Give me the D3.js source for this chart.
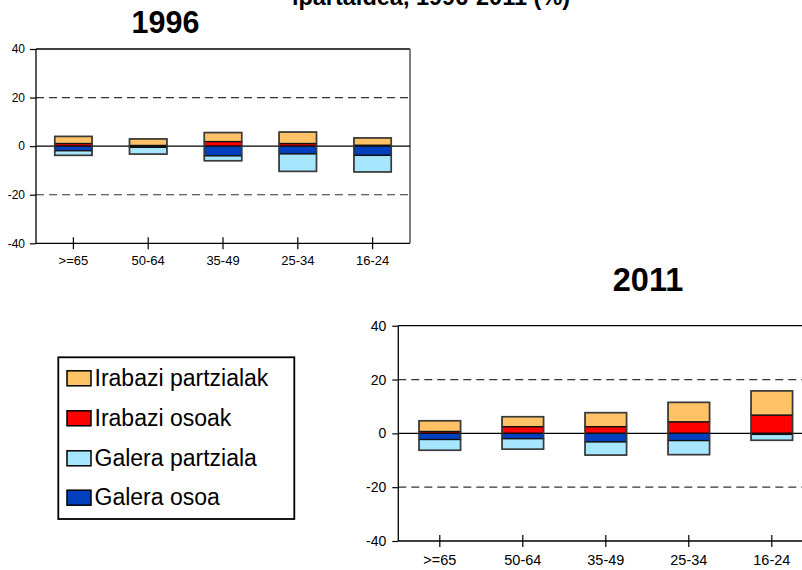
<!DOCTYPE html>
<html>
<head>
<meta charset="utf-8">
<script src="https://cdn.jsdelivr.net/npm/d3@7"></script>
<style>
  html, body { margin: 0; padding: 0; background: #fff; }
  svg { display: block; font-family: "Liberation Sans", Arial, sans-serif; }
</style>
</head>
<body>
<svg id="chart" width="802" height="570"></svg>
<script>
// ---- data ----
const categories = [">=65", "50-64", "35-49", "25-34", "16-24"];
const seriesNames = ["Irabazi partzialak", "Irabazi osoak", "Galera partziala", "Galera osoa"];
const seriesColors = ["#FFC266", "#FF0000", "#A6E6FF", "#0040BF"];
const yTicks = [-40, -20, 0, 20, 40];
const yTickLabels = ["-40", "-20", "0", "20", "40"];

// 1996
const gainPartial1996 = [2.9, 2.7, 3.7, 4.7, 3.0];
const gainTotal1996   = [1.1, 0.3, 1.9, 1.1, 0.4];
const lossPartial1996 = [1.9, 2.8, 2.0, 7.2, 6.8];
const lossTotal1996   = [1.9, 0.5, 4.0, 3.2, 3.8];
// 2011
const gainPartial2011 = [4.0, 3.7, 5.2, 7.2, 9.0];
const gainTotal2011   = [0.7, 2.5, 2.5, 4.3, 6.8];
const lossPartial2011 = [4.0, 3.9, 4.9, 5.2, 2.2];
const lossTotal2011   = [2.3, 2.0, 3.2, 2.7, 0.4];

const titleTop = "ipartaldea, 1996-2011 (%)";

const svg = d3.select("#chart");

// top title (cut by the upper edge, as in the reference)
svg.append("text").attr("x", 431).attr("y", 4.5).attr("text-anchor", "middle")
  .attr("font-size", 23.5).attr("font-weight", "bold").attr("fill", "#000").text(titleTop);

function drawPanel(opt) {
  const x = d3.scaleBand().domain(categories).range([opt.x0, opt.x1]).paddingInner(0.5).paddingOuter(0.25);
  const y = d3.scaleLinear().domain([-40, 40]).range([opt.y0, opt.y1]);
  const g = svg.append("g");

  g.append("text").attr("x", opt.titleX).attr("y", opt.titleY).attr("text-anchor", "middle")
    .attr("font-size", opt.titleSize).attr("font-weight", "bold").text(opt.title);

  g.selectAll("line.grid").data([-20, 20]).join("line").attr("class", "grid")
    .attr("x1", opt.x0).attr("x2", opt.x1).attr("y1", d => y(d)).attr("y2", d => y(d))
    .attr("stroke", "#333").attr("stroke-width", 1.2).attr("stroke-dasharray", "8,5");

  g.append("line").attr("x1", opt.x0).attr("x2", opt.x1).attr("y1", y(40)).attr("y2", y(40))
    .attr("stroke", "#000").attr("stroke-width", 1.3);
  if (opt.rightBorder) {
    g.append("line").attr("x1", opt.x1).attr("x2", opt.x1).attr("y1", y(40)).attr("y2", y(-40))
      .attr("stroke", "#555").attr("stroke-width", 1.5);
  }
  g.append("line").attr("x1", opt.x0).attr("x2", opt.x1).attr("y1", y(0)).attr("y2", y(0))
    .attr("stroke", "#000").attr("stroke-width", 1.3);

  const rows = categories.map((c, i) => {
    const gt = opt.gainTotal[i], gp = opt.gainPartial[i], lt = opt.lossTotal[i], lp = opt.lossPartial[i];
    return [
      {c, y0: 0, y1: gt, color: seriesColors[1]},
      {c, y0: gt, y1: gt + gp, color: seriesColors[0]},
      {c, y0: 0, y1: -lt, color: seriesColors[3]},
      {c, y0: -lt, y1: -lt - lp, color: seriesColors[2]}
    ];
  });
  g.selectAll("rect.seg").data(rows.flat()).join("rect").attr("class", "seg")
    .attr("x", d => x(d.c)).attr("width", x.bandwidth())
    .attr("y", d => y(Math.max(d.y0, d.y1)))
    .attr("height", d => Math.abs(y(d.y0) - y(d.y1)))
    .attr("fill", d => d.color).attr("stroke", "#111").attr("stroke-width", 1.3);
  g.selectAll("rect.box").data(categories).join("rect").attr("class", "box")
    .attr("x", c => x(c)).attr("width", x.bandwidth())
    .attr("y", (c, i) => y(opt.gainTotal[i] + opt.gainPartial[i]))
    .attr("height", (c, i) => y(-opt.lossTotal[i] - opt.lossPartial[i]) - y(opt.gainTotal[i] + opt.gainPartial[i]))
    .attr("fill", "none").attr("stroke", "#444").attr("stroke-width", 1.6).attr("stroke-opacity", 0.8);

  const ya = g.append("g").attr("transform", `translate(${opt.x0},0)`)
    .call(d3.axisLeft(y).tickValues(yTicks).tickSize(6).tickPadding(opt.yPad)
      .tickFormat(d => yTickLabels[yTicks.indexOf(d)]));
  ya.select(".domain").attr("stroke", "#000").attr("stroke-width", 1.3).attr("d", `M0,${y(-40)}V${y(40)}`);
  ya.selectAll(".tick line").attr("stroke", "#000").attr("stroke-width", 1.2);
  ya.selectAll(".tick text").attr("font-size", opt.yFont).attr("fill", "#000")
    .attr("font-family", '"Liberation Sans", Arial, sans-serif');

  const xa = g.append("g").attr("transform", `translate(0,${y(-40)})`)
    .call(d3.axisBottom(x).tickSize(6));
  xa.select(".domain").attr("stroke", "#000").attr("stroke-width", 1.3).attr("d", `M${opt.x0},0H${opt.x1}`);
  xa.selectAll(".tick line").attr("y1", -6).attr("y2", 6).attr("stroke", "#000").attr("stroke-width", 1.2);
  xa.selectAll(".tick text").attr("y", opt.xLabelY).attr("dy", 0).attr("font-size", opt.xFont).attr("fill", "#000")
    .attr("font-family", '"Liberation Sans", Arial, sans-serif');
}

drawPanel({
  title: "1996", titleX: 165.5, titleY: 33, titleSize: 30.5,
  x0: 36, x1: 410, y0: 243.3, y1: 49,
  rightBorder: true, yFont: 12, xFont: 13, yPad: 5, xLabelY: 22,
  gainPartial: gainPartial1996, gainTotal: gainTotal1996, lossPartial: lossPartial1996, lossTotal: lossTotal1996
});
drawPanel({
  title: "2011", titleX: 648, titleY: 290.5, titleSize: 32.5,
  x0: 398.3, x1: 813.3, y0: 541, y1: 325.7,
  rightBorder: false, yFont: 14, xFont: 14.5, yPad: 6, xLabelY: 24,
  gainPartial: gainPartial2011, gainTotal: gainTotal2011, lossPartial: lossPartial2011, lossTotal: lossTotal2011
});

// legend
const legend = svg.append("g");
legend.append("rect").attr("x", 58.3).attr("y", 357.3).attr("width", 236).attr("height", 161.7)
  .attr("fill", "#fff").attr("stroke", "#000").attr("stroke-width", 1.8);
const legendY = [378.3, 418.3, 458.3, 497.7];
[0, 1, 2, 3].forEach((si, i) => {
  legend.append("rect").attr("x", 67).attr("y", legendY[i] - 7.5).attr("width", 24).attr("height", 15)
    .attr("fill", seriesColors[si]).attr("stroke", "#000").attr("stroke-width", 1.5);
  legend.append("text").attr("x", 94.5).attr("y", legendY[i] + 7.5).attr("font-size", 23).attr("fill", "#000")
    .text(seriesNames[si]);
});
</script>
</body>
</html>
